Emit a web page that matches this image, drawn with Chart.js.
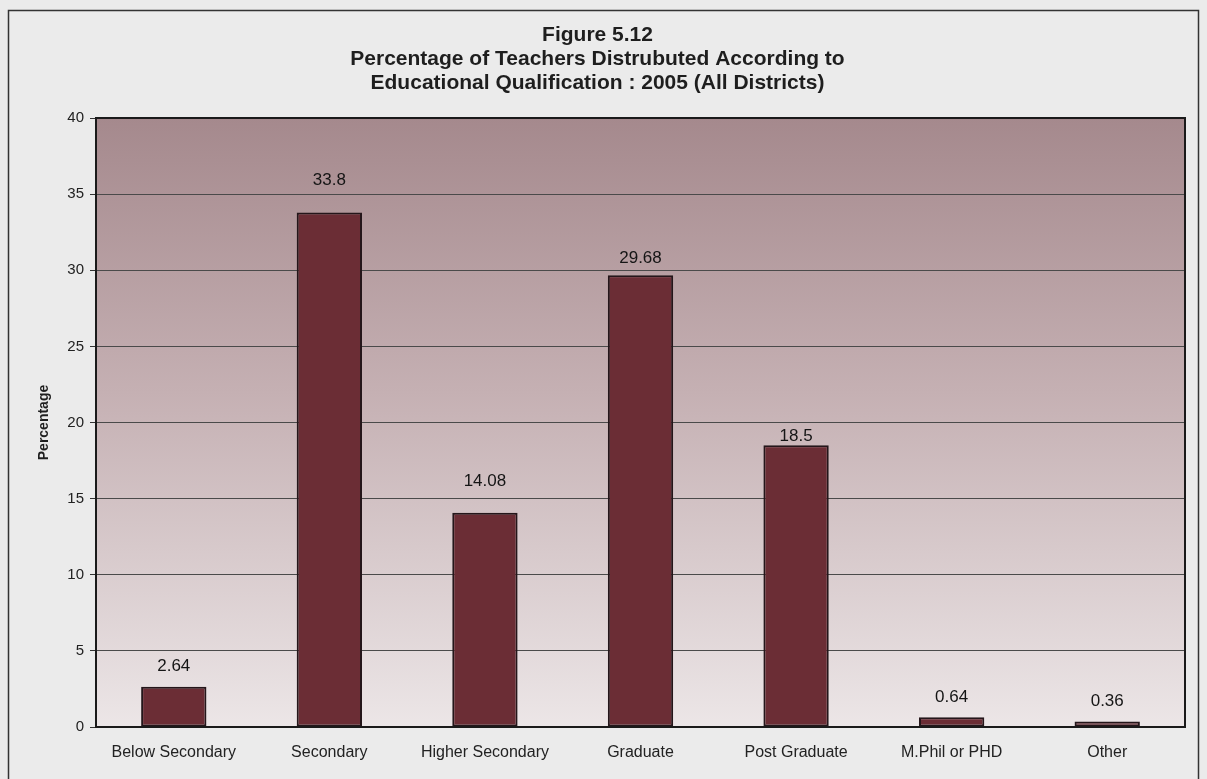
<!DOCTYPE html>
<html>
<head>
<meta charset="utf-8">
<script src="https://cdn.jsdelivr.net/npm/chart.js@4/dist/chart.umd.min.js"></script>
<style>
  html, body { margin: 0; padding: 0; background: #ebebeb; }
  #wrap { width: 1207px; height: 779px; }
</style>
</head>
<body>
<div id="wrap"><canvas id="chart" width="1207" height="779"></canvas></div>
<script>
// Daten aus der Abbildung
var categories = ['Below Secondary', 'Secondary', 'Higher Secondary', 'Graduate', 'Post Graduate', 'M.Phil or PHD', 'Other'];
var percentages = [2.64, 33.8, 14.08, 29.68, 18.5, 0.64, 0.36];
var titleLines = ['Figure 5.12', 'Percentage of Teachers Distrubuted According to', 'Educational Qualification : 2005 (All Districts)'];

// Abstand der Beschriftung über dem Balken (px), wie im Original verschoben
var labelGap = [20, 32, 31, 17, 9, 20, 20];

var fontFam = '"Liberation Sans", Arial, sans-serif';

// Rahmen + Verlauf im Diagrammbereich
var backgroundPlugin = {
    id: 'plotBackground',
    beforeDraw: function(chart) {
        var ctx = chart.ctx;
        var a = chart.chartArea;
        ctx.save();
        // äußerer Rahmen
        ctx.strokeStyle = '#333';
        ctx.lineWidth = 1.5;
        ctx.strokeRect(8.5, 10.5, 1190, 790);
        // Verlauf
        var g = ctx.createLinearGradient(0, a.top, 0, a.bottom);
        g.addColorStop(0, '#a5898d');
        g.addColorStop(0.45, '#c5b0b3');
        g.addColorStop(1, '#ece6e7');
        ctx.fillStyle = g;
        ctx.fillRect(a.left, a.top, a.right - a.left, a.bottom - a.top);
        ctx.restore();
    },
    afterDatasetsDraw: function(chart) {
        var ctx = chart.ctx;
        var a = chart.chartArea;
        ctx.save();
        ctx.strokeStyle = '#1a1a1a';
        ctx.lineWidth = 2;
        ctx.strokeRect(a.left, a.top, a.right - a.left, a.bottom - a.top);
        // Werte über den Balken
        var meta = chart.getDatasetMeta(0);
        ctx.font = '17px ' + fontFam;
        ctx.fillStyle = '#151515';
        ctx.textAlign = 'center';
        ctx.textBaseline = 'middle';
        meta.data.forEach(function(bar, i) {
            ctx.fillText(String(percentages[i]), bar.x, bar.y - labelGap[i]);
        });
        ctx.restore();
    }
};

var ctx = document.getElementById('chart').getContext('2d');
var chart = new Chart(ctx, {
    type: 'bar',
    data: {
        labels: categories,
        datasets: [{
            data: percentages,
            backgroundColor: '#6b2d35',
            borderColor: '#24161a',
            borderWidth: 2,
            borderSkipped: false,
            barPercentage: 0.42,
            categoryPercentage: 1
        }]
    },
    options: {
        responsive: false,
        animation: false,
        layout: { padding: { left: 10, right: 22, top: 0, bottom: 0 } },
        plugins: {
            legend: { display: false },
            tooltip: { enabled: false },
            title: {
                display: true,
                text: titleLines,
                color: '#1e1e1e',
                font: { family: fontFam, size: 21, weight: 'bold', lineHeight: 1.143 },
                padding: { top: 23, bottom: 23 }
            }
        },
        scales: {
            x: {
                grid: { display: false, drawTicks: false },
                border: { display: true, color: '#1a1a1a', width: 2 },
                ticks: { color: '#222', font: { family: fontFam, size: 16 }, padding: 16, maxRotation: 0, autoSkip: false },
                afterFit: function(scale) { scale.height = 52; }
            },
            y: {
                min: 0,
                max: 40,
                ticks: { stepSize: 5, color: '#222', font: { family: fontFam, size: 15 }, padding: 6 },
                grid: { color: '#4a4a4a', lineWidth: 1, tickLength: 6, tickColor: '#333' },
                border: { display: true, color: '#1a1a1a', width: 2 },
                title: { display: true, text: 'Percentage', color: '#1e1e1e', font: { family: fontFam, size: 14, weight: 'bold' }, padding: { top: 26, bottom: 0 } },
                afterFit: function(scale) { scale.width = 86; }
            }
        }
    },
    plugins: [backgroundPlugin]
});
</script>
</body>
</html>
